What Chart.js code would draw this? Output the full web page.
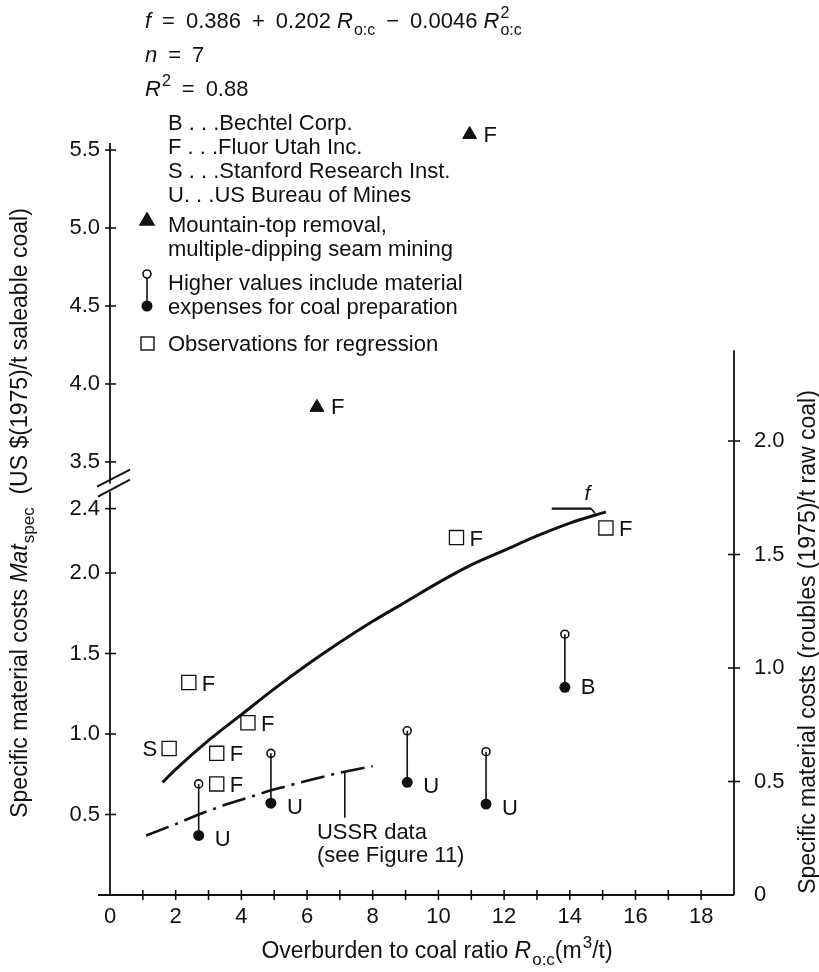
<!DOCTYPE html>
<html>
<head>
<meta charset="utf-8">
<script src="https://cdn.jsdelivr.net/npm/chart.js@4.4.1/dist/chart.umd.min.js"></script>
<style>
  html, body { margin: 0; background: #fff; }
  #wrap { width: 819px; height: 972px; position: relative; }
</style>
</head>
<body>
<div id="wrap"><canvas id="myChart"></canvas></div>
<script>
// valores (R o:c en m3/t, costes en US$/t)
var squareX = [1.8, 2.4, 3.25, 3.25, 4.2, 10.55, 15.1];
var squareY = [0.91, 1.32, 0.88, 0.69, 1.07, 2.22, 2.28];
var squareLabels = ["S", "F", "F", "F", "F", "F", "F"];

var triangleX = [6.3, 10.95];
var triangleY = [3.85, 5.6];
var triangleLabels = ["F", "F"];

var pairX = [2.7, 4.9, 9.05, 11.45, 13.85];
var pairHigh = [0.69, 0.88, 1.02, 0.89, 1.62];
var pairLow = [0.37, 0.57, 0.70, 0.565, 1.29];
var pairLabels = ["U", "U", "U", "U", "B"];

// curva de regresion f
var curveX = [1.6, 2, 3, 4, 5, 6, 7, 8, 9, 10, 11, 12, 13, 14, 15.1];
var curveY = [0.70, 0.78, 0.96, 1.12, 1.28, 1.43, 1.57, 1.70, 1.82, 1.94, 2.05, 2.14, 2.23, 2.31, 2.38];

// datos URSS (linea de trazo y punto)
var ussrX = [1.1, 2, 2.7, 3.5, 4.9, 6, 7, 8];
var ussrY = [0.37, 0.44, 0.50, 0.56, 0.65, 0.71, 0.76, 0.80];

// etiquetas de los ejes
var xTicks = [0, 2, 4, 6, 8, 10, 12, 14, 16, 18];
var leftTicks = [0.5, 1.0, 1.5, 2.0, 2.4, 3.5, 4.0, 4.5, 5.0, 5.5];
var rightTicks = [0, 0.5, 1.0, 1.5, 2.0];
var rightAxisTop = 2.4;

var FONT = '"Liberation Sans", Arial, Helvetica, sans-serif';
var INK = "#111";
var SP = "\u2002"; // espacio ancho para la ecuacion

// eje cortado: por encima del corte la escala se desplaza
function axisY(v) {
  return v > 3 ? 2.69 + (v - 3.5) * 0.9686 : v;
}

function pts(xs, ys) {
  return xs.map(function (x, i) { return { x: x, y: axisY(ys[i]) }; });
}

var stems = [];
pairX.forEach(function (x, i) {
  stems.push({ x: x, y: pairLow[i] }, { x: x, y: pairHigh[i] }, { x: x, y: null });
});

// texto con cursiva, subindices y superindices
function rich(ctx, parts, x, y, size, draw) {
  var cx = x;
  parts.forEach(function (p) {
    if (p.t) {
      ctx.font = (p.i ? "italic " : "") + size + "px " + FONT;
      if (draw) ctx.fillText(p.t, cx, y);
      cx += ctx.measureText(p.t).width;
    }
    var small = Math.round(size * 0.72), w = 0;
    ctx.font = small + "px " + FONT;
    if (p.sup) { if (draw) ctx.fillText(p.sup, cx + 1, y - size * 0.45); w = ctx.measureText(p.sup).width + 1; }
    if (p.sub) { if (draw) ctx.fillText(p.sub, cx + 1, y + size * 0.3); w = Math.max(w, ctx.measureText(p.sub).width + 1); }
    cx += w;
  });
  return cx - x;
}

function line(ctx, x1, y1, x2, y2, w) {
  ctx.lineWidth = w;
  ctx.beginPath(); ctx.moveTo(x1, y1); ctx.lineTo(x2, y2); ctx.stroke();
}

var extras = {
  id: "extras",
  afterDatasetsDraw: function (chart) {
    var ctx = chart.ctx, a = chart.chartArea;
    var sx = chart.scales.x, sy = chart.scales.y, sy2 = chart.scales.y2;
    ctx.save();
    ctx.strokeStyle = INK; ctx.fillStyle = INK;
    ctx.lineCap = "butt";

    // ejes
    var x0 = a.left, yb = a.bottom;
    line(ctx, x0 - 12, yb, a.right, yb, 1.8);
    line(ctx, x0, yb, x0, a.top, 1.8);
    var topR = sy2.getPixelForValue(rightAxisTop);
    line(ctx, a.right, yb, a.right, topR, 1.8);
    for (var k = 1; k <= 18; k++) {
      var px = sx.getPixelForValue(k);
      line(ctx, px, yb - 5, px, yb + 5, 1.6);
    }
    leftTicks.forEach(function (v) {
      var py = sy.getPixelForValue(axisY(v));
      line(ctx, x0 - 5, py, x0 + 6, py, 1.6);
    });
    rightTicks.forEach(function (v) {
      if (v === 0) return;
      var py = sy2.getPixelForValue(v);
      line(ctx, a.right - 6, py, a.right + 6, py, 1.6);
    });
    // marca de corte
    var yc = sy.getPixelForValue(2.53);
    ctx.fillStyle = "#fff";
    ctx.fillRect(x0 - 3, yc - 4, 6, 8);
    ctx.fillStyle = INK;
    line(ctx, x0 - 13, yc - 1, x0 + 20, yc - 18, 2);
    line(ctx, x0 - 12, yc + 9, x0 + 20, yc - 8, 2);

    // etiquetas de puntos
    ctx.font = "22px " + FONT;
    ctx.textBaseline = "middle";
    squareX.forEach(function (x, i) {
      var px = sx.getPixelForValue(x), py = sy.getPixelForValue(axisY(squareY[i]));
      if (squareLabels[i] === "S") { ctx.textAlign = "right"; ctx.fillText("S", px - 12, py + 1); }
      else { ctx.textAlign = "left"; ctx.fillText(squareLabels[i], px + 13, py + 2); }
    });
    ctx.textAlign = "left";
    triangleX.forEach(function (x, i) {
      ctx.fillText(triangleLabels[i], sx.getPixelForValue(x) + 14, sy.getPixelForValue(axisY(triangleY[i])) + 1);
    });
    pairX.forEach(function (x, i) {
      var dy = pairLabels[i] === "U" ? 5 : 1;
      ctx.fillText(pairLabels[i], sx.getPixelForValue(x) + 16, sy.getPixelForValue(pairLow[i]) + dy);
    });

    // etiqueta f de la curva
    var fx1 = sx.getPixelForValue(13.45), fx2 = sx.getPixelForValue(14.65), fy = sy.getPixelForValue(2.40);
    line(ctx, fx1, fy, fx2, fy, 2.2);
    line(ctx, fx2, fy, fx2 + 4, fy + 5, 1.6);
    ctx.font = "italic 21px " + FONT;
    ctx.textBaseline = "alphabetic";
    ctx.fillText("f", sx.getPixelForValue(14.45), fy - 9);

    // nota URSS
    var ux = sx.getPixelForValue(7.15);
    line(ctx, ux, sy.getPixelForValue(0.765), ux, sy.getPixelForValue(0.48), 1.6);
    ctx.font = "22px " + FONT;
    ctx.fillText("USSR data", sx.getPixelForValue(6.3), sy.getPixelForValue(0.35));
    ctx.fillText("(see Figure 11)", sx.getPixelForValue(6.3), sy.getPixelForValue(0.205));

    // ecuacion
    var S = 22;
    rich(ctx, [{ t: "f", i: 1 }, { t: SP + "=" + SP + "0.386" + SP + "+" + SP + "0.202 " }, { t: "R", i: 1, sub: "o:c" },
      { t: SP + "\u2212" + SP + "0.0046 " }, { t: "R", i: 1, sup: "2", sub: "o:c" }], 145, 28, S, true);
    rich(ctx, [{ t: "n", i: 1 }, { t: SP + "=" + SP + "7" }], 145, 62, S, true);
    rich(ctx, [{ t: "R", i: 1, sup: "2" }, { t: SP + "=" + SP + "0.88" }], 145, 96, S, true);

    // leyenda
    ctx.font = S + "px " + FONT;
    var legendLines = [
      ["B . . .Bechtel Corp.", 130], ["F . . .Fluor Utah Inc.", 154],
      ["S . . .Stanford Research Inst.", 178], ["U. . .US Bureau of Mines", 202],
      ["Mountain-top removal,", 232], ["multiple-dipping seam mining", 256],
      ["Higher values include material", 290], ["expenses for coal preparation", 314],
      ["Observations for regression", 351]
    ];
    legendLines.forEach(function (l) { ctx.fillText(l[0], 168, l[1]); });
    Chart.helpers.drawPoint(ctx, { pointStyle: "triangle", radius: 8, borderWidth: 1 }, 147, 221);
    ctx.fill();
    line(ctx, 147, 275, 147, 306, 1.6);
    ctx.fillStyle = "#fff";
    ctx.beginPath(); ctx.arc(147, 274, 4, 0, Math.PI * 2); ctx.fill(); ctx.lineWidth = 1.6; ctx.stroke();
    ctx.fillStyle = INK;
    ctx.beginPath(); ctx.arc(147, 306, 5.5, 0, Math.PI * 2); ctx.fill();
    ctx.lineWidth = 1.4;
    ctx.strokeRect(141, 337, 13, 13);

    // titulos de los ejes
    var T = 23;
    var xt = [{ t: "Overburden to coal ratio " }, { t: "R", i: 1, sub: "o:c" }, { t: "(m", sup: "3" }, { t: "/t)" }];
    var w = rich(ctx, xt, 0, 0, T, false);
    rich(ctx, xt, 437 - w / 2, 958, T, true);

    var lt = [{ t: "Specific material costs " }, { t: "Mat", i: 1, sub: "spec" }, { t: "  (US $(1975)/t saleable coal)" }];
    w = rich(ctx, lt, 0, 0, T, false);
    ctx.save(); ctx.translate(27, 513); ctx.rotate(-Math.PI / 2);
    rich(ctx, lt, -w / 2, 0, T, true); ctx.restore();

    var rt = [{ t: "Specific material costs (roubles (1975)/t raw coal)" }];
    w = rich(ctx, rt, 0, 0, T, false);
    ctx.save(); ctx.translate(815, 642); ctx.rotate(-Math.PI / 2);
    rich(ctx, rt, -w / 2, 0, T, true); ctx.restore();

    ctx.restore();
  }
};

var tickFont = { family: FONT, size: 22 };

var chart = new Chart(document.getElementById("myChart").getContext("2d"), {
  type: "scatter",
  data: {
    datasets: [
      { label: "f", data: pts(curveX, curveY), showLine: true, borderColor: INK, borderWidth: 3,
        pointRadius: 0, tension: 0.4, cubicInterpolationMode: "monotone" },
      { label: "USSR", data: pts(ussrX, ussrY), showLine: true, borderColor: INK, borderWidth: 2.6,
        borderDash: [24, 7, 3, 7], pointRadius: 0 },
      { label: "stems", data: stems, showLine: true, spanGaps: false, borderColor: INK,
        borderWidth: 1.6, pointRadius: 0 },
      { label: "high", data: pts(pairX, pairHigh), pointRadius: 4, backgroundColor: "#fff",
        borderColor: INK, borderWidth: 1.6 },
      { label: "low", data: pts(pairX, pairLow), pointRadius: 5.5, backgroundColor: INK,
        borderColor: INK, borderWidth: 0 },
      { label: "squares", data: pts(squareX, squareY), pointStyle: "rect", pointRadius: 10,
        backgroundColor: "#fff", borderColor: INK, borderWidth: 1.3 },
      { label: "triangles", data: pts(triangleX, triangleY), pointStyle: "triangle", pointRadius: 8,
        backgroundColor: INK, borderColor: INK, borderWidth: 1, clip: false }
    ]
  },
  options: {
    responsive: true,
    maintainAspectRatio: false,
    animation: false,
    events: [],
    layout: { padding: { top: 143, left: 0, right: 0, bottom: 0 } },
    plugins: { legend: { display: false }, tooltip: { enabled: false } },
    scales: {
      x: {
        type: "linear", min: 0, max: 19,
        grid: { display: false, drawTicks: false }, border: { display: false },
        afterBuildTicks: function (s) { s.ticks = xTicks.map(function (v) { return { value: v }; }); },
        afterFit: function (s) { s.height = 77; },
        ticks: { autoSkip: false, maxRotation: 0, padding: 9, color: INK, font: tickFont,
          callback: function (v) { return String(v); } }
      },
      y: {
        type: "linear", position: "left", min: 0, max: 4.671,
        grid: { display: false, drawTicks: false }, border: { display: false },
        afterBuildTicks: function (s) { s.ticks = leftTicks.map(function (v) { return { value: axisY(v) }; }); },
        afterFit: function (s) { s.width = 110; },
        ticks: { autoSkip: false, padding: 10, color: INK, font: tickFont,
          callback: function (v, i) { return leftTicks[i].toFixed(1); } }
      },
      y2: {
        type: "linear", position: "right", min: 0, max: 3.313,
        grid: { display: false, drawTicks: false }, border: { display: false },
        afterBuildTicks: function (s) { s.ticks = rightTicks.map(function (v) { return { value: v }; }); },
        afterFit: function (s) { s.width = 85; },
        ticks: { autoSkip: false, padding: 20, color: INK, font: tickFont,
          callback: function (v) { return v === 0 ? "0" : v.toFixed(1); } }
      }
    }
  },
  plugins: [extras]
});
</script>
</body>
</html>
